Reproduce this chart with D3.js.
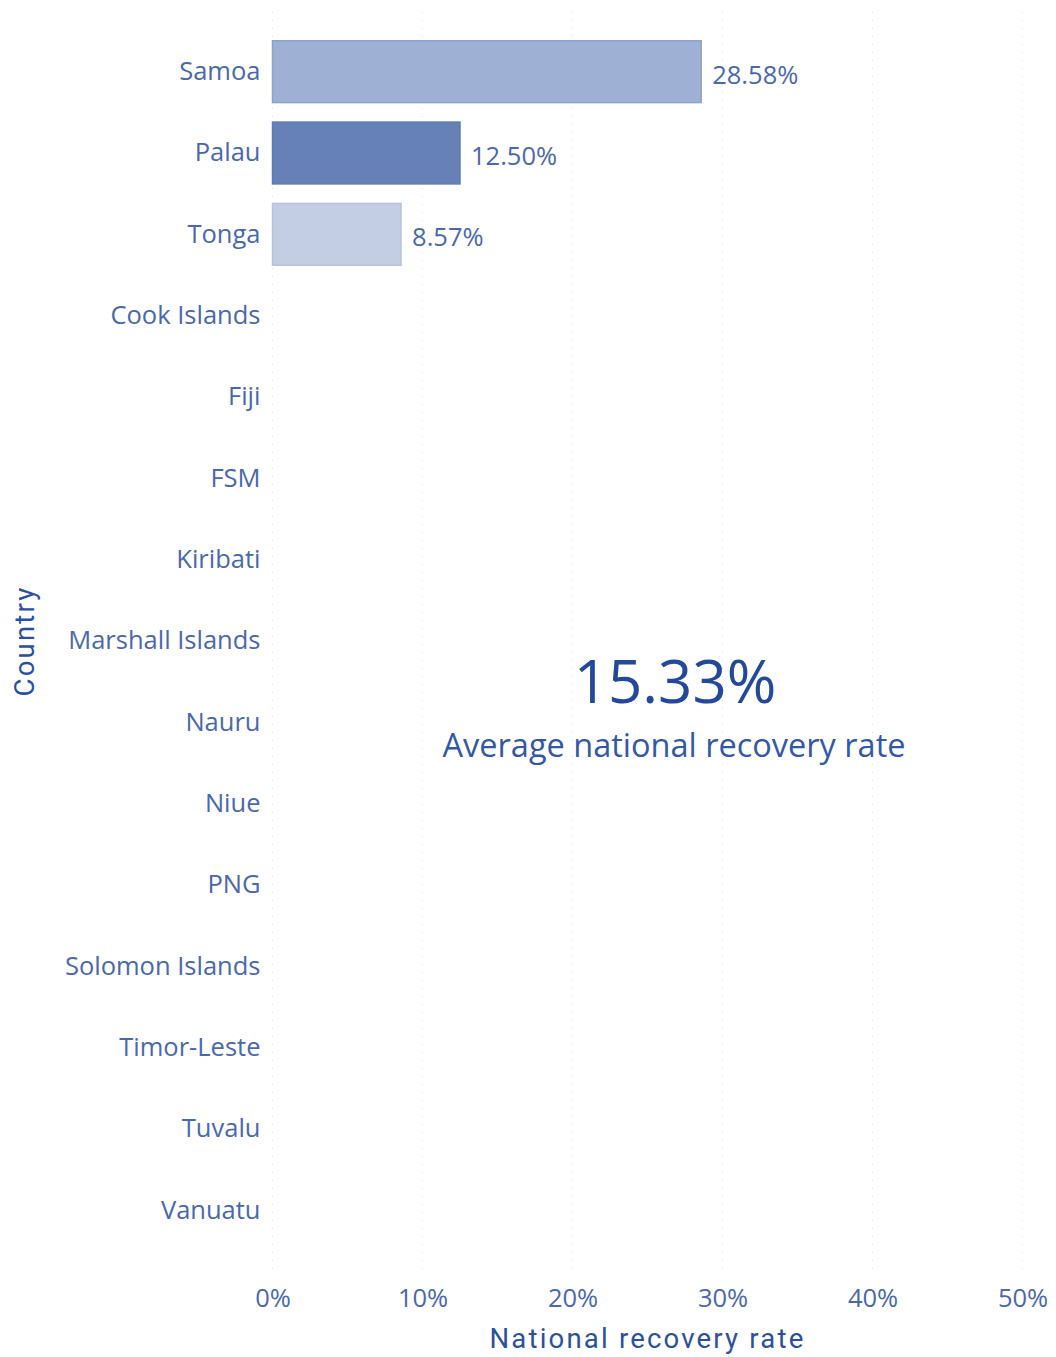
<!DOCTYPE html>
<html lang="en">
<head>
<meta charset="utf-8">
<title>National recovery rate</title>
<script src="https://cdn.jsdelivr.net/npm/d3@7"></script>
<style>
  body { margin: 0; background: #fff; }
  svg { display: block; }
  text { font-family: "Open Sans", "Noto Sans", sans-serif; }
</style>
</head>
<body>
<script>
// data
var countries = ["Samoa", "Palau", "Tonga", "Cook Islands", "Fiji", "FSM", "Kiribati",
  "Marshall Islands", "Nauru", "Niue", "PNG", "Solomon Islands", "Timor-Leste", "Tuvalu", "Vanuatu"];
var recoveryRate = [28.58, 12.50, 8.57, null, null, null, null, null, null, null, null, null, null, null, null];
var xTicks = [0, 10, 20, 30, 40, 50];
var averageRate = 15.33;
var averageLabel = "Average national recovery rate";

var W = 1056, H = 1357;
var margin = { left: 272.5, right: 33.5, top: 31, bottom: 106 };

var svg = d3.select("body").append("svg")
  .attr("width", W).attr("height", H);

var x = d3.scaleLinear().domain([0, 50]).range([margin.left, W - margin.right]);
var y = d3.scaleBand().domain(countries).range([margin.top, H - margin.bottom]).paddingInner(0.24).paddingOuter(0.12);

var fillColor = d3.scaleOrdinal().domain(["Samoa", "Palau", "Tonga"]).range(["#9eb0d3", "#6581b8", "#c3cde4"]);
var strokeColor = d3.scaleOrdinal().domain(["Samoa", "Palau", "Tonga"]).range(["#8da2cb", "#5f7bb3", "#b7c3de"]);

var rows = countries.map(function(c, i) { return { country: c, value: recoveryRate[i] }; });

// gridlines
svg.append("g").selectAll("line")
  .data(xTicks).enter().append("line")
  .attr("x1", function(d) { return x(d); })
  .attr("x2", function(d) { return x(d); })
  .attr("y1", 12).attr("y2", 1276)
  .attr("stroke", "#dcdcdc")
  .attr("stroke-width", 1)
  .attr("stroke-dasharray", "1,7");

// bars
svg.append("g").selectAll("rect")
  .data(rows.filter(function(d) { return d.value != null; })).enter().append("rect")
  .attr("x", x(0))
  .attr("y", function(d) { return y(d.country); })
  .attr("width", function(d) { return x(d.value) - x(0); })
  .attr("height", y.bandwidth())
  .attr("fill", function(d) { return fillColor(d.country); })
  .attr("stroke", function(d) { return strokeColor(d.country); })
  .attr("stroke-width", 1.5);

// value labels
svg.append("g").selectAll("text")
  .data(rows.filter(function(d) { return d.value != null; })).enter().append("text")
  .attr("x", function(d) { return x(d.value) + 11; })
  .attr("y", function(d) { return y(d.country) + y.bandwidth() / 2 + 12; })
  .attr("fill", "#4a68ae")
  .style("font-size", "25.5px")
  .text(function(d) { return d.value.toFixed(2) + "%"; });

// y axis
var yAxis = svg.append("g")
  .attr("transform", "translate(" + (margin.left - 12) + ",0)")
  .call(d3.axisLeft(y).tickSize(0).tickPadding(0));
yAxis.select(".domain").remove();
yAxis.selectAll("text")
  .attr("fill", "#4a68ae")
  .attr("dy", "0.32em")
  .style("font-size", "25.5px")
  .style("font-family", "'Open Sans', sans-serif");

// x axis
var xAxis = svg.append("g")
  .attr("transform", "translate(0,1289)")
  .call(d3.axisBottom(x).tickValues(xTicks).tickSize(0).tickPadding(0)
    .tickFormat(function(d) { return d + "%"; }));
xAxis.select(".domain").remove();
xAxis.selectAll("text")
  .attr("fill", "#4a68ae")
  .attr("dy", "0.71em")
  .style("font-size", "25.5px")
  .style("font-family", "'Open Sans', sans-serif");

// axis titles
svg.append("text")
  .attr("x", x(25)).attr("y", 1348)
  .attr("text-anchor", "middle")
  .attr("fill", "#2b509f")
  .style("font-family", "Roboto, sans-serif")
  .style("font-size", "27.5px")
  .style("letter-spacing", "2.2px")
  .text("National recovery rate");

svg.append("text")
  .attr("transform", "translate(34," + 641 + ") rotate(-90)")
  .attr("text-anchor", "middle")
  .attr("fill", "#2b509f")
  .style("font-family", "Roboto, sans-serif")
  .style("font-size", "27.5px")
  .style("letter-spacing", "2.2px")
  .text("Country");

// average card
svg.append("text")
  .attr("x", 675).attr("y", 703)
  .attr("text-anchor", "middle")
  .attr("fill", "#23499b")
  .style("font-size", "60px")
  .text(averageRate.toFixed(2) + "%");

svg.append("text")
  .attr("x", 674).attr("y", 757)
  .attr("text-anchor", "middle")
  .attr("fill", "#3358a6")
  .style("font-size", "32.5px")
  .text(averageLabel);
</script>
</body>
</html>
